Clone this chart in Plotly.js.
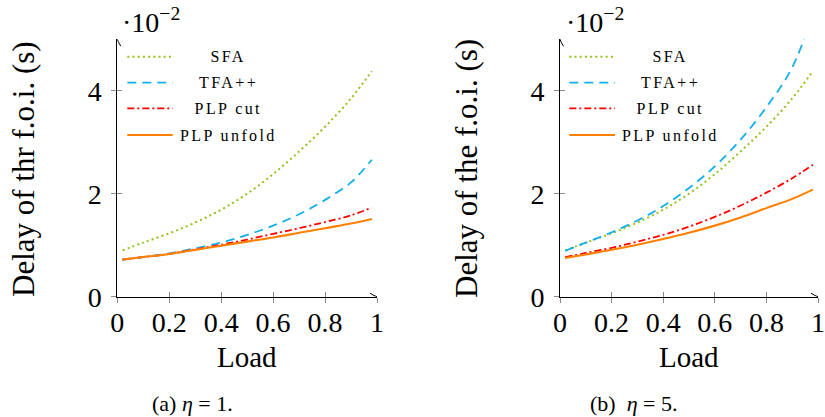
<!DOCTYPE html>
<html>
<head>
<meta charset="utf-8">
<script src="https://cdn.plot.ly/plotly-3.0.1.min.js"></script>
<style>html,body{margin:0;padding:0;background:#fff;}#chart{width:825px;height:417px;}</style>
</head>
<body>
<div id="chart"></div>
<script>
// Load values (x axis)
var load = [0.02, 0.1, 0.2, 0.3, 0.4, 0.5, 0.6, 0.7, 0.8, 0.9, 0.98];
var seriesNames = ['SFA', 'TFA++', 'PLP cut', 'PLP unfold'];

// (a) eta = 1, delay in units of 1e-2 s
var sfaA    = [0.90, 1.05, 1.23, 1.44, 1.69, 2.00, 2.38, 2.82, 3.30, 3.85, 4.38];
var tfaA    = [0.72, 0.77, 0.84, 0.94, 1.05, 1.20, 1.38, 1.60, 1.88, 2.22, 2.66];
var cutA    = [0.72, 0.77, 0.83, 0.92, 1.01, 1.11, 1.22, 1.33, 1.45, 1.58, 1.73];
var unfoldA = [0.72, 0.77, 0.83, 0.91, 0.99, 1.07, 1.15, 1.24, 1.33, 1.42, 1.51];

// (b) eta = 5
var sfaB    = [0.90, 1.05, 1.23, 1.44, 1.69, 2.00, 2.38, 2.82, 3.30, 3.85, 4.38];
var tfaB    = [0.89, 1.05, 1.25, 1.48, 1.76, 2.11, 2.53, 3.05, 3.68, 4.45, 5.50];
var cutB    = [0.77, 0.85, 0.95, 1.07, 1.20, 1.36, 1.55, 1.77, 2.02, 2.30, 2.56];
var unfoldB = [0.75, 0.82, 0.91, 1.01, 1.12, 1.24, 1.38, 1.54, 1.72, 1.90, 2.08];

var xTickVals = [0, 0.2, 0.4, 0.6, 0.8, 1];
var xTickText = ['0', '0.2', '0.4', '0.6', '0.8', '1'];
var yTickVals = [0, 2, 4];
var yTickText = ['0', '2', '4'];

var yTitleA = 'Delay of thr f.o.i. (s)';
var yTitleB = 'Delay of the f.o.i. (s)';
var xTitle = 'Load';
var capA = '(a) <i>η</i> = 1.';
var capB = '(b)  <i>η</i> = 5.';
var scaleLabel = '·10<sup>−2</sup>';

var styles = [
  {color: '#95c11b', width: 2.0, dash: '2px,3.2px'},
  {color: '#14b0ec', width: 1.8, dash: '9px,6px'},
  {color: '#ff0000', width: 1.8, dash: '7px,3px,2px,3px'},
  {color: '#ff8000', width: 2.1, dash: 'solid'}
];

var W = 825, H = 417;
function px(x) { return x / W; }
function py(y) { return 1 - y / H; }

var dataA = [sfaA, tfaA, cutA, unfoldA];
var dataB = [sfaB, tfaB, cutB, unfoldB];
var traces = [];
dataA.forEach(function (d, i) {
  traces.push({x: load, y: d, type: 'scatter', mode: 'lines', name: seriesNames[i],
    line: {color: styles[i].color, width: styles[i].width, dash: styles[i].dash, shape: 'spline'},
    xaxis: 'x', yaxis: 'y', showlegend: false, hoverinfo: 'skip'});
});
dataB.forEach(function (d, i) {
  traces.push({x: load, y: d, type: 'scatter', mode: 'lines', name: seriesNames[i],
    line: {color: styles[i].color, width: styles[i].width, dash: styles[i].dash, shape: 'spline'},
    xaxis: 'x2', yaxis: 'y2', showlegend: false, hoverinfo: 'skip'});
});
// empty traces on overlay axes for the outer tick halves
traces.push({x: [], y: [], xaxis: 'x3', yaxis: 'y3', type: 'scatter', showlegend: false});
traces.push({x: [], y: [], xaxis: 'x4', yaxis: 'y4', type: 'scatter', showlegend: false});

var FONT = 'Liberation Serif, Times New Roman, serif';
var yDom = [py(296.7), py(39.2)];
var domA = [px(117.3), px(377)];
var domB = [px(560), px(818)];

function xAx(dom, anchor) {
  return {domain: dom, anchor: anchor, range: [0, 1], showgrid: false, zeroline: false,
    showline: true, linecolor: '#000', linewidth: 1, ticks: 'inside', ticklen: 5, tickwidth: 1,
    tickcolor: '#8a8a8a', tickvals: xTickVals, ticktext: xTickText, ticklabelstandoff: 1,
    tickfont: {family: FONT, size: 28, color: '#000'}, fixedrange: true};
}
function yAx(anchor) {
  return {domain: yDom, anchor: anchor, range: [0, 5], showgrid: false, zeroline: false,
    showline: true, linecolor: '#000', linewidth: 1, ticks: 'inside', ticklen: 5, tickwidth: 1,
    tickcolor: '#8a8a8a', tickvals: yTickVals, ticktext: yTickText, ticklabelstandoff: 9,
    tickfont: {family: FONT, size: 28, color: '#000'}, fixedrange: true};
}
function xOut(over, anchor) {
  return {overlaying: over, anchor: anchor, range: [0, 1], showgrid: false, zeroline: false,
    showline: false, ticks: 'outside', ticklen: 5, tickwidth: 1, tickcolor: '#8a8a8a',
    tickvals: xTickVals, showticklabels: false, fixedrange: true};
}
function yOut(over, anchor) {
  return {overlaying: over, anchor: anchor, range: [0, 5], showgrid: false, zeroline: false,
    showline: false, ticks: 'outside', ticklen: 5, tickwidth: 1, tickcolor: '#8a8a8a',
    tickvals: yTickVals, showticklabels: false, fixedrange: true};
}

var annotations = [];
var shapes = [];
function axisArrows(xr, yr) {
  shapes.push({type: 'path', xref: xr, yref: yr, xsizemode: 'pixel', ysizemode: 'pixel',
    xanchor: 1, yanchor: 0, path: 'M-7,3.5 Q-2.5,0.6 0,0 Q-2.5,-0.6 -7,-3.5',
    line: {color: '#000', width: 1}});
  shapes.push({type: 'path', xref: xr, yref: yr, xsizemode: 'pixel', ysizemode: 'pixel',
    xanchor: 0, yanchor: 5, path: 'M-3.5,-7 Q-0.6,-2.5 0,0 Q0.6,-2.5 3.5,-7',
    line: {color: '#000', width: 1}});
}
axisArrows('x', 'y');
axisArrows('x2', 'y2');

function textAnn(text, x, y, size, angle) {
  annotations.push({text: text, x: px(x), y: py(y), xref: 'paper', yref: 'paper',
    xanchor: 'center', yanchor: 'middle', showarrow: false, textangle: angle || 0,
    font: {family: FONT, size: size, color: '#000'}});
}
textAnn(yTitleA, 24, 169, 31, -90);
textAnn(yTitleB, 467, 169, 31, -90);
textAnn(xTitle, 247, 357, 29);
textAnn(xTitle, 689, 357, 29);
textAnn(capA, 192, 403, 22);
textAnn(capB, 634, 403, 22);
textAnn(scaleLabel, 151, 20, 28);
textAnn(scaleLabel, 595, 20, 28);

// legends (no frame)
var legRows = [56.7, 82.7, 108.3, 135];
function legend(x0, x1, tx) {
  seriesNames.forEach(function (n, i) {
    shapes.push({type: 'line', xref: 'paper', yref: 'paper', x0: px(x0), x1: px(x1),
      y0: py(legRows[i]), y1: py(legRows[i]),
      line: {color: styles[i].color, width: styles[i].width, dash: styles[i].dash}});
    annotations.push({text: n, x: px(tx), y: py(legRows[i]), xref: 'paper', yref: 'paper',
      xanchor: 'center', yanchor: 'middle', showarrow: false,
      font: {family: FONT, size: 16, color: '#000'}});
  });
}
legend(127.3, 172.7, 228);
legend(569.3, 615, 670);

var layout = {
  width: W, height: H, margin: {l: 0, r: 0, t: 0, b: 0},
  paper_bgcolor: '#fff', plot_bgcolor: 'rgba(0,0,0,0)', showlegend: false,
  xaxis: xAx(domA, 'y'), yaxis: yAx('x'),
  xaxis2: xAx(domB, 'y2'), yaxis2: yAx('x2'),
  xaxis3: xOut('x', 'y3'), yaxis3: yOut('y', 'x3'),
  xaxis4: xOut('x2', 'y4'), yaxis4: yOut('y2', 'x4'),
  annotations: annotations, shapes: shapes
};

Plotly.newPlot('chart', traces, layout, {staticPlot: true, displayModeBar: false}).then(function (gd) {
  // letter-spaced legend labels as in the reference
  var nodes = gd.querySelectorAll('.annotation-text');
  nodes.forEach(function (t) {
    if (seriesNames.indexOf(t.textContent) >= 0) {
      t.style.letterSpacing = '2.4px';
    }
  });
});
</script>
</body>
</html>
